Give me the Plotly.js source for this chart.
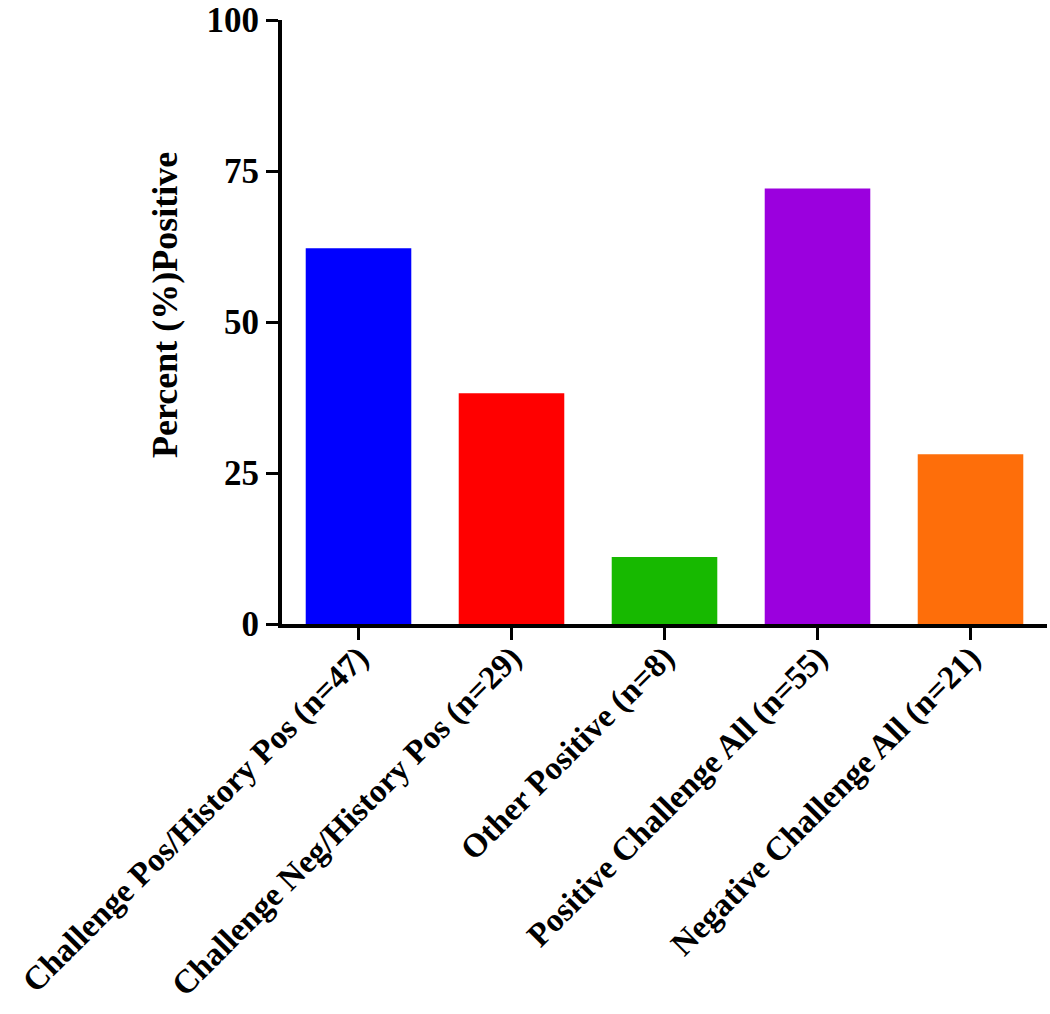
<!DOCTYPE html>
<html>
<head>
<meta charset="utf-8">
<script src="https://cdn.plot.ly/plotly-3.0.1.min.js"></script>
<style>
  body { margin: 0; background: #fff; }
  #grafico { width: 1050px; height: 1014px; }
</style>
</head>
<body>
<div id="grafico"></div>
<script>
// Categorias e valores (percentual positivo)
const categories = [
    'Challenge Pos/History Pos (n=47)',
    'Challenge Neg/History Pos (n=29)',
    'Other Positive (n=8)',
    'Positive Challenge All (n=55)',
    'Negative Challenge All (n=21)'
];
const percentPositive = [62.2, 38.2, 11.1, 72.1, 28.1];
const barColors = ['#0000ff', '#ff0000', '#17b900', '#9b00de', '#fe6e0a'];
const yTicks = [0, 25, 50, 75, 100];

const fonte = { family: 'Liberation Serif, Times New Roman, serif', size: 35, color: '#000', weight: 'bold' };

const data = [
    {
        x: categories,
        y: percentPositive,
        type: 'bar',
        marker: { color: barColors, line: { width: 0 } },
        hoverinfo: 'x+y'
    }
];

const layout = {
    width: 1050,
    height: 1014,
    margin: { l: 282, r: 3, t: 20, b: 390 },
    bargap: 0.31,
    showlegend: false,
    xaxis: {
        range: [-0.5, 4.5],
        showline: true,
        linecolor: '#000',
        linewidth: 4,
        ticks: 'outside',
        ticklen: 12,
        tickwidth: 3,
        tickcolor: '#000',
        tickangle: -45,
        tickfont: { ...fonte, size: 33 },
        ticklabelstandoff: -15,
        showgrid: false,
        zeroline: false
    },
    yaxis: {
        range: [0, 100],
        tickvals: yTicks,
        showline: true,
        linecolor: '#000',
        linewidth: 4,
        ticks: 'outside',
        ticklen: 12,
        tickwidth: 3,
        tickcolor: '#000',
        tickfont: fonte,
        showgrid: false,
        zeroline: false
    },
    // título do eixo Y como anotação para acertar a posição
    annotations: [
        {
            text: 'Percent (%)Positive',
            xref: 'paper', yref: 'paper',
            x: -0.153, y: 0.528,
            xanchor: 'center', yanchor: 'middle',
            textangle: -90,
            showarrow: false,
            font: { ...fonte, size: 36 }
        }
    ],
    plot_bgcolor: '#fff',
    paper_bgcolor: '#fff'
};

Plotly.newPlot('grafico', data, layout, { displayModeBar: false });
</script>
</body>
</html>
